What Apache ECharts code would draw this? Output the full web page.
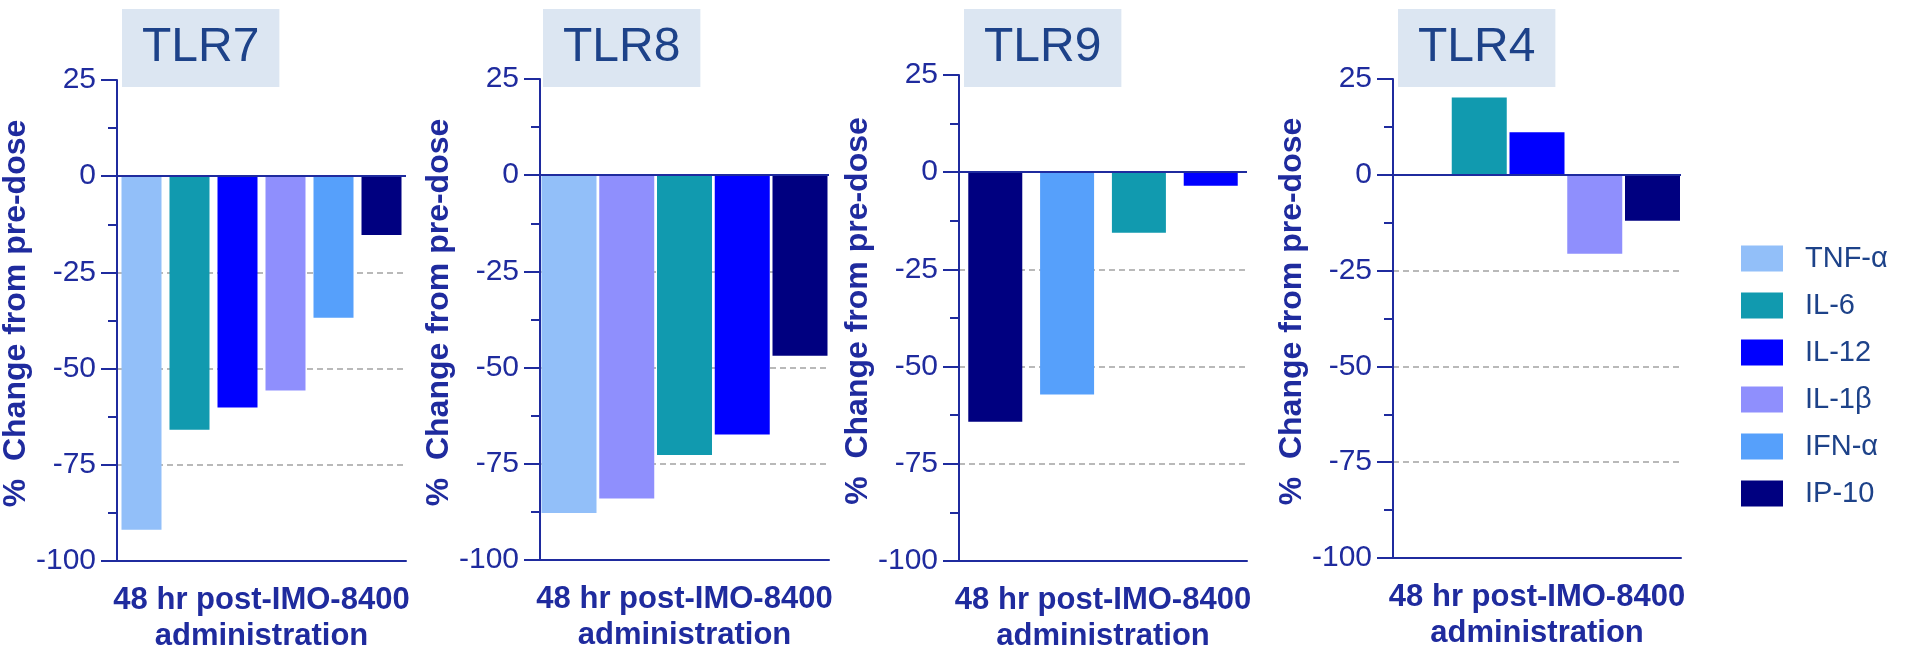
<!DOCTYPE html>
<html>
<head>
<meta charset="utf-8">
<script src="https://cdn.jsdelivr.net/npm/echarts@6/dist/echarts.min.js"></script>
<style>
html,body{margin:0;padding:0;background:#fff;}
#chart{width:1905px;height:649px;}
</style>
</head>
<body>
<div id="chart"></div>
<script>
// ---- data ----
const categories = ['48 hr post-IMO-8400\nadministration'];
const legendNames = ['TNF-α', 'IL-6', 'IL-12', 'IL-1β', 'IFN-α', 'IP-10'];
const panelTitles = ['TLR7', 'TLR8', 'TLR9', 'TLR4'];
const tlr7Names = ['TNF-α', 'IL-6', 'IL-12', 'IL-1β', 'IFN-α', 'IP-10'];
const tlr7Values = [-91.9, -65.9, -60.1, -55.7, -36.8, -15.3];
const tlr8Names = ['TNF-α', 'IL-1β', 'IL-6', 'IL-12', 'IP-10'];
const tlr8Values = [-87.8, -84.0, -72.7, -67.4, -46.9];
const tlr9Names = ['IP-10', 'IFN-α', 'IL-6', 'IL-12'];
const tlr9Values = [-64.2, -57.2, -15.6, -3.5];
const tlr4Names = ['TNF-α', 'IL-6', 'IL-12', 'IL-1β', 'IP-10'];
const tlr4Values = [null, 20.2, 11.1, -20.6, -12.0];
const yMin = -100, yMax = 25, yStep = 25;
const yAxisTitle = '%  Change from pre-dose';

// ---- styles / layout ----
const colors = {
  'TNF-α': '#92bff9', 'IL-6': '#119aaf', 'IL-12': '#0000ff',
  'IL-1β': '#8f8ffd', 'IFN-α': '#56a0fb', 'IP-10': '#000080'
};
const axisColor = '#1f2b9e';
const titleColor = '#1d4289';
const FONT = '"Liberation Sans", Arial, sans-serif';
const panelNames = [tlr7Names, tlr8Names, tlr9Names, tlr4Names];
const panelValues = [tlr7Values, tlr8Values, tlr9Values, tlr4Values];
const layout = [
  {left: 117, top: 80, width: 289, height: 481, titleLeft: 122, barWidth: 40, barGap: '20%'},
  {left: 540, top: 79, width: 289, height: 481, titleLeft: 543, barWidth: 55, barGap: '5%'},
  {left: 959, top: 75, width: 288, height: 486, titleLeft: 964, barWidth: 54, barGap: '33%'},
  {left: 1393, top: 79, width: 288, height: 479, titleLeft: 1398, barWidth: 55, barGap: '5%'}
];

const grids = [], xAxes = [], yAxes = [], series = [], titles = [];
const gridColors = [];
for (let v = yMin; v <= yMax; v += yStep) {
  gridColors.push((v === 0 || v === yMax || v === yMin) ? 'rgba(0,0,0,0)' : '#a3a3a3');
}
panelTitles.forEach((t, p) => {
  const L = layout[p];
  grids.push({left: L.left, top: L.top, width: L.width, height: L.height, containLabel: false, outerBoundsMode: 'none'});
  titles.push({
    text: t, left: L.titleLeft, top: 9,
    backgroundColor: '#dce6f2', padding: [15, 20, 15, 20],
    textStyle: {fontFamily: FONT, fontSize: 48, fontWeight: 'normal', color: titleColor, lineHeight: 48}
  });
  xAxes.push({
    type: 'category', gridIndex: p, data: categories,
    axisLine: {onZero: false, lineStyle: {color: axisColor, width: 2}},
    axisTick: {alignWithLabel: true, length: 15, lineStyle: {color: axisColor, width: 2}},
    axisLabel: {interval: 0, margin: 21, fontFamily: FONT, fontSize: 31, fontWeight: 'bold', lineHeight: 36, color: axisColor},
    splitLine: {show: false}
  });
  yAxes.push({
    type: 'value', gridIndex: p, min: yMin, max: yMax, interval: yStep,
    name: yAxisTitle, nameLocation: 'middle', nameGap: 70,
    nameTextStyle: {fontFamily: FONT, fontSize: 32, fontWeight: 'bold', color: axisColor, padding: [0, 0, 0, 14]},
    axisLine: {show: true, lineStyle: {color: axisColor, width: 2}},
    axisTick: {show: true, length: 16, lineStyle: {color: axisColor, width: 2}},
    minorTick: {show: true, splitNumber: 2, length: 9, lineStyle: {color: axisColor, width: 2}},
    axisLabel: {margin: 21, fontFamily: FONT, fontSize: 30, color: axisColor},
    splitLine: {show: true, lineStyle: {color: gridColors, width: 1.5, type: [6, 4]}}
  });
  const names = panelNames[p], vals = panelValues[p];
  names.forEach((n, i) => {
    const s = {
      type: 'bar', name: n, xAxisIndex: p, yAxisIndex: p,
      data: [vals[i]], barWidth: L.barWidth, barGap: L.barGap,
      itemStyle: {color: colors[n]}, silent: true
    };
    if (i === names.length - 1) {
      s.markLine = {
        silent: true, symbol: 'none', z: 5,
        label: {show: false},
        lineStyle: {color: axisColor, width: 2, type: 'solid'},
        data: [{yAxis: 0}]
      };
    }
    series.push(s);
  });
});

const chart = echarts.init(document.getElementById('chart'), null, {renderer: 'canvas'});
chart.setOption({
  animation: false,
  backgroundColor: '#ffffff',
  title: titles,
  legend: {
    data: legendNames, orient: 'vertical', left: 1736, top: 239,
    itemWidth: 42, itemHeight: 26, itemGap: 18, icon: 'rect',
    selectedMode: false,
    textStyle: {fontFamily: FONT, fontSize: 29, color: titleColor, lineHeight: 26, padding: [0, 0, 0, 17]}
  },
  grid: grids,
  xAxis: xAxes,
  yAxis: yAxes,
  series: series
});
</script>
</body>
</html>
